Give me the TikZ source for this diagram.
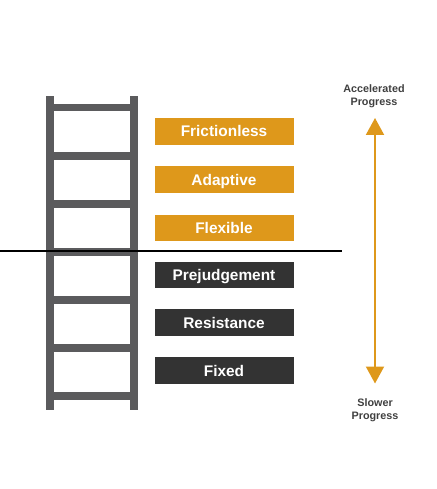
\documentclass[tikz,border=0pt]{standalone}
\usepackage{fontspec}
\setmainfont{Liberation Sans}
\usetikzlibrary{arrows.meta}
\definecolor{orng}{HTML}{DE981B}
\definecolor{dark}{HTML}{333333}
\definecolor{ladder}{HTML}{5B5B5D}
\definecolor{txtgray}{HTML}{404040}
\tikzset{
  stage/.style={minimum width=139pt, minimum height=26.5pt, inner sep=0pt, text height=11pt, text depth=0pt, text=white, font=\bfseries\fontsize{15.4}{18}\selectfont},
  good/.style={stage, fill=orng},
  bad/.style={stage, fill=dark},
  endlabel/.style={align=center, text=txtgray, font=\bfseries\fontsize{10.8}{13}\selectfont, inner sep=0pt},
  rail/.style={fill=ladder, draw=none},
  progress/.style={draw=orng, line width=2pt, {Triangle[width=18pt,length=17pt]}-{Triangle[width=18pt,length=17pt]}}
}
\begin{document}
\begin{tikzpicture}[x=1pt,y=-1pt]
\useasboundingbox (0,0) rectangle (436,489);
% ladder
\fill[rail] (46,96) rectangle (53.5,410);
\fill[rail] (130,96) rectangle (137.5,410);
\foreach \y in {104,152,200,248,296,344,392}{
  \fill[rail] (53.5,\y) rectangle (130,\y+7.5);
}
% divider
\draw[line width=1.7pt, black] (0,250.7) -- (342,250.7);
% stages
\node[good] (frictionless) at (224,131.3) {Frictionless};
\node[good] (adaptive) at (224,179.7) {Adaptive};
\node[good] (flexible) at (224,228) {Flexible};
\node[bad] (prejudgement) at (224,275) {Prejudgement};
\node[bad] (resistance) at (224,322.7) {Resistance};
\node[bad] (fixed) at (224,370.7) {Fixed};
% labels and arrow
\node[endlabel] (acc) at (374,96.5) {Accelerated\\Progress};
\node[endlabel] (slow) at (375,410) {Slower\\Progress};
\coordinate (top) at (375,118);
\coordinate (bot) at (375,383.5);
\draw[progress] (top) -- (bot);
\end{tikzpicture}
\end{document}
